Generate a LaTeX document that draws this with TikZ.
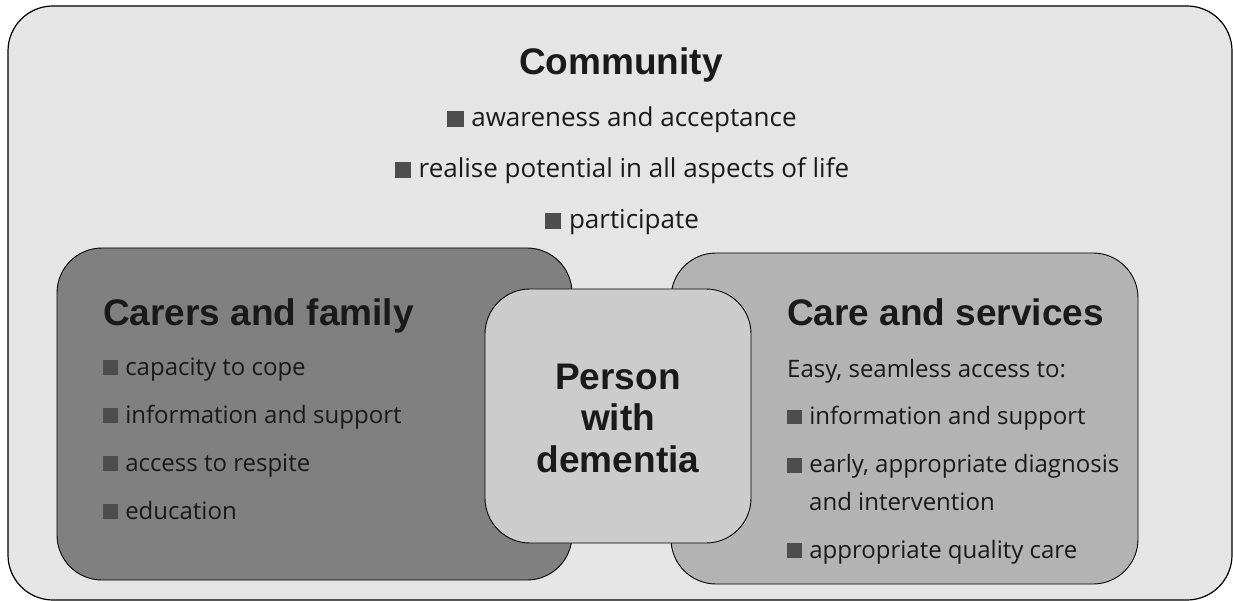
\documentclass[tikz,border=0pt]{standalone}
\usepackage{fontspec}
\setmainfont{Open Sans}
\newfontfamily\headfont{Liberation Sans}
\usetikzlibrary{positioning}
\definecolor{commfill}{HTML}{E5E5E5}
\definecolor{carersfill}{HTML}{808080}
\definecolor{carefill}{HTML}{B3B3B3}
\definecolor{personfill}{HTML}{CCCCCC}
\definecolor{bulletgray}{HTML}{4D4D4D}
\definecolor{textgray}{HTML}{1A1A1A}
\newcommand{\sqbul}{{\color{bulletgray}\rule{0.62em}{0.62em}}\hspace{0.3em}}

\begin{document}
\begin{tikzpicture}[x=1pt,y=-1pt]
 	\tikzstyle{region}=[rectangle, rounded corners=45pt, draw=black, line width=0.9pt]
 	\tikzstyle{head}=[inner sep=0pt, text=textgray, font=\headfont\bfseries\fontsize{37}{41.5}\selectfont]
 	\tikzstyle{item}=[inner sep=0pt, text=textgray, text height=19pt, text depth=6pt, font=\fontsize{24}{28}\selectfont, node distance=22.7pt]
 	\tikzstyle{bigitem}=[item, font=\fontsize{26}{30}\selectfont]
 	\useasboundingbox (0,0) rectangle (1233,601);
 	\node[region, fill=commfill, line width=1.2pt, minimum width=1224pt, minimum height=594pt] (community) at (620,303) {};
 	\node[region, fill=carersfill, minimum width=515pt, minimum height=332pt] (carers) at (314.5,414) {};
 	\node[region, fill=carefill, minimum width=467pt, minimum height=331pt] (care) at (904.5,418.5) {};
 	\node[region, fill=personfill, minimum width=266pt, minimum height=254pt] (person) at (618,416) {};
 	\node[head, anchor=base] (commhead) at (621,75) {Community};
 	\node[bigitem, anchor=base] (aware) at (622,127) {\sqbul awareness and acceptance};
 		\node[bigitem, below=25.5pt of aware] (potential) {\sqbul realise potential in all aspects of life};
 		\node[bigitem, below=25.5pt of potential] (participate) {\sqbul participate};
 	\node[head, anchor=base west] (carershead) at (103,325) {Carers and family};
 	\node[item, anchor=base west] (cope) at (103,375) {\sqbul capacity to cope};
 		\node[item, below=of cope.south west, anchor=north west] (carersinfo) {\sqbul information and support};
 		\node[item, below=of carersinfo.south west, anchor=north west] (respite) {\sqbul access to respite};
 		\node[item, below=of respite.south west, anchor=north west] (education) {\sqbul education};
 	\node[head, anchor=base west] (carehead) at (787,325) {Care and services};
 	\node[item, anchor=base west] (access) at (787,377) {Easy, seamless access to:};
 		\node[item, below=22pt of access.south west, anchor=north west] (careinfo) {\sqbul information and support};
 		\node[item, below=23pt of careinfo.south west, anchor=north west] (diagnosis) {\sqbul early, appropriate diagnosis};
 		\node[item, below=12pt of diagnosis.south west, anchor=north west, xshift=22pt] (intervention) {and intervention};
 		\node[item, below=23pt of diagnosis.south west, anchor=north west, yshift=-37pt] (quality) {\sqbul appropriate quality care};
 	\node[head, align=center] (personlabel) at (618,418) {Person\\with\\dementia};
\end{tikzpicture}
\end{document}
